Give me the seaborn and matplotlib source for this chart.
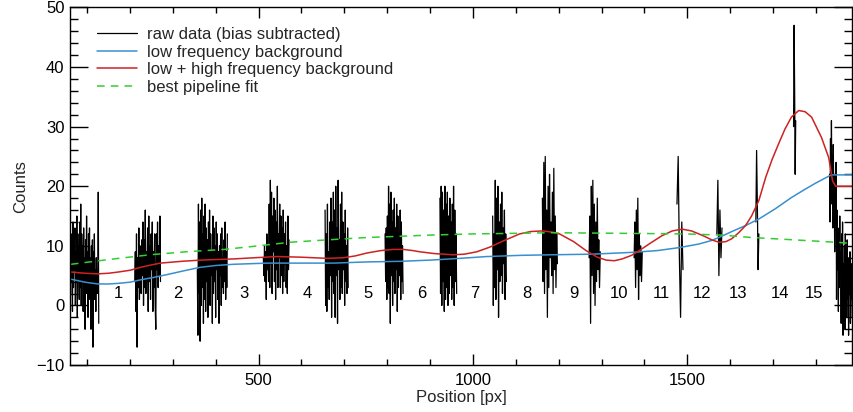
import numpy as np
import pandas as pd
import matplotlib
matplotlib.use('Agg')
import matplotlib.pyplot as plt
from matplotlib.lines import Line2D
from matplotlib.ticker import MultipleLocator
import seaborn as sns

# raw data clusters: [start, end] in px and the counts
clust_start = [60, 211, 357, 511, 655, 795, 923, 1046, 1162, 1271, 1376, 1476, 1569, 1660, 1748, 1832]
clust_end = [127, 271, 427, 571, 709, 837, 962, 1078, 1197, 1297, 1395, 1490, 1581, 1667, 1753, 1885]
clust_vals = [
    [8, 2, 12, 4, 10, -1, 14, 3, 11, 6, 13, 0, 9, 4, 15, -2, 12, 5, 9, 1, 14, 3, 17, 0, 12, 6, 10, -1, 13, 4,
     8, -4, 11, 2, 15, 3, 9, -2, 12, 5, 13, 1, 8, -4, 10, 2, 11, -7, 9, 3, 12, 1, 6, -1, 8, 2, 5, 2, 19, -3],
    [4, 9, -1, 12, -7, 8, 3, 13, 1, 10, 6, 2, 11, 5, 14, 0, 11, 3, 16, 2, 9, 4, 13, -1, 15, 4, 10, 1, 12, 6,
     14, -1, 9, 3, 12, 0, -4, 12, 6, 14, 3, 10, 5, 15, 4],
    [6, -5, 17, 2, 14, -6, 16, 0, 18, 3, 12, -3, 15, 1, 17, -1, 13, 4, 11, -2, 14, 2, 16, 0, 12, 5, 9, -3,
     15, 2, 13, 4, 10, -2, 14, 6, 12, 1, 9, -3, 10, 5, 12, 0, 13, 3, 8, 2, 11, 4, 14, 1, 9, 3, 12],
    [8, 5, 10, 4, 9, 1, 12, 6, 10, 4, 17, 3, 21, 7, 19, 2, 15, 9, 18, 4, 16, 1, 14, 6, 20, 3, 12, 8, 17, 3,
     15, 5, 13, 2, 16, 4, 12, 7, 14, 3, 10, 2, 15, 6, 11],
    [16, 0, 12, -1, 17, 3, 9, 1, 14, 5, 18, -2, 14, 4, 19, 2, 16, -2, 20, 5, 13, -3, 21, 6, 11, 1, 17, 3,
     19, 2, 14, 6, 12, 0, 16, 4, 10, 2, 13, 3],
    [12, 4, 13, 1, 15, 3, 20, 2, 17, -3, 19, 5, 14, 0, 16, 4, 18, 2, 13, 6, 17, -1, 15, 3, 12, 5, 16, 1,
     14, 4, 10, 2],
    [18, 2, 20, 0, 19, 4, 16, -1, 20, 1, 17, 3, 19, 0, 15, 2, 18, 5, 14, 1, 17, 3, 20, 0, 16, 4, 12, 2],
    [15, 0, 12, 3, 21, 1, 18, 6, 20, -2, 14, 4, 17, 5, 19, 2, 13, 7, 16, 1, 12, 4],
    [18, 4, 24, 2, 25, 6, 16, -2, 20, 3, 22, 8, 14, 5, 19, 2, 23, 6, 15, 3, 12, 7],
    [8, 15, -3, 20, 5, 21, 2, 17, 0, 14, 4, 18, 6, 11, 3, 9],
    [8, 14, 3, 16, 6, 18, 1, 12, 5, 10, 4, 9],
    [17, 25, 8, -2, 14, 6],
    [12, 21, 5, 16, 8, 13],
    [14, 26, 17, 6, 12],
    [30, 47, 36, 22, 31],
    [22, 14, 28, 17, 31, 20, 25, 13, 27, 18, 22, 9, 20, 15, 24, 1, 16, 6, 13, -1, 11, 3, 15, 5, 9, -3,
     12, 2, 14, -5, 7, 0, 10, -4, 12, 5, 8, -2, 11, 1, 8, -5, 6, 2, 9, -3, 4, 1, 7, -2],
]

# low frequency background
low_x = [62, 95, 125, 150, 172, 200, 225, 255, 288, 325, 364, 400, 441, 480, 520, 597, 674, 753,
         830, 899, 970, 1032, 1110, 1185, 1278, 1371, 1430, 1481, 1527, 1557, 1580, 1604, 1636,
         1667, 1705, 1743, 1775, 1799, 1820, 1836, 1885]
low_y = [4.4, 3.9, 3.6, 3.6, 3.7, 3.9, 4.3, 4.7, 5.2, 5.8, 6.4, 6.7, 6.9, 7.0, 7.1, 7.1, 7.1, 7.3,
         7.4, 7.6, 7.9, 8.2, 8.4, 8.5, 8.6, 8.9, 9.2, 9.7, 10.3, 10.9, 11.6, 12.4, 13.4,
         14.5, 16.2, 18.1, 19.5, 20.5, 21.3, 21.9, 21.9]

# low + high frequency background
lohi_x = [62, 95, 125, 150, 172, 200, 225, 250, 271, 320, 364, 400, 441, 490, 543, 597, 660, 697,
          725, 753, 785, 813, 837, 860, 876, 910, 953, 980, 1009, 1040, 1070, 1109, 1135, 1162,
          1185, 1202, 1235, 1264, 1290, 1311, 1330, 1348, 1370, 1388, 1415, 1441, 1465, 1488,
          1510, 1527, 1540, 1557, 1574, 1590, 1604, 1620, 1636, 1650, 1667, 1683, 1698, 1713,
          1728, 1743, 1760, 1775, 1790, 1813, 1830, 1839, 1846, 1885]
lohi_y = [5.6, 5.4, 5.3, 5.4, 5.6, 5.9, 6.4, 6.8, 7.1, 7.4, 7.6, 7.7, 7.8, 8.0, 8.2, 8.1, 7.9, 8.0,
          8.3, 8.8, 9.2, 9.4, 9.4, 9.2, 9.0, 8.7, 8.5, 8.6, 9.0, 9.8, 10.8, 12.0, 12.4, 12.5,
          12.3, 12.0, 10.7, 9.2, 8.1, 7.6, 7.5, 7.8, 8.4, 9.2, 10.5, 11.7, 12.5, 12.8,
          12.5, 12.0, 11.6, 11.0, 10.6, 10.7, 11.2, 12.2, 13.4, 15.0, 17.6, 21.5, 24.5, 27.1,
          29.6, 31.6, 32.7, 32.5, 31.6, 28.2, 24.8, 20.9, 20.0, 20.0]

# best pipeline fit
fit_x = [62, 150, 247, 330, 420, 500, 574, 660, 753, 830, 899, 1000, 1100, 1185, 1341, 1497,
         1580, 1650, 1750, 1846, 1885]
fit_y = [6.9, 7.7, 8.5, 9.0, 9.4, 10.0, 10.6, 11.0, 11.4, 11.6, 11.8, 12.0, 12.1, 12.2, 12.1, 12.0,
         11.8, 11.4, 11.0, 10.6, 10.4]

seg_labels = [str(i) for i in range(1, 16)]
seg_x = [172, 312, 465, 614, 756, 881, 1005, 1126, 1235, 1340, 1440, 1535, 1619, 1716, 1795]
seg_y = 2

rows = []
for k, (a, b, vals) in enumerate(zip(clust_start, clust_end, clust_vals)):
    for p, v in zip(np.linspace(a, b, len(vals)), vals):
        rows.append((k, p, v))
raw = pd.DataFrame(rows, columns=['cluster', 'pos', 'counts'])

sns.set_theme(style='ticks')
plt.rcParams['font.family'] = ['Liberation Sans', 'DejaVu Sans']
plt.rcParams.update({
    'xtick.top': True, 'xtick.bottom': True, 'ytick.left': True, 'ytick.right': True,
    'xtick.direction': 'in', 'ytick.direction': 'in',
    'xtick.color': 'black', 'ytick.color': 'black',
})

c_blue = '#3a8fce'
c_red = '#cc2222'
c_green = '#33cc33'

fig = plt.figure(figsize=(8.54, 4.12), dpi=100)
ax = fig.add_axes([0.082, 0.114, 0.916, 0.868])

sns.lineplot(data=raw, x='pos', y='counts', units='cluster', estimator=None,
             color='black', linewidth=0.9, ax=ax, legend=False)
sns.lineplot(x=low_x, y=low_y, color=c_blue, linewidth=1.1, ax=ax)
sns.lineplot(x=lohi_x, y=lohi_y, color=c_red, linewidth=1.1, ax=ax)
sns.lineplot(x=fit_x, y=fit_y, color=c_green, linewidth=1.1, ax=ax,
             linestyle=(0, (5, 4)))

for lab, xp in zip(seg_labels, seg_x):
    ax.text(xp, seg_y, lab, ha='center', va='center', fontsize=12, color='black')

ax.set_xlim(60, 1885)
ax.set_ylim(-10, 50)
ax.set_xlabel('Position [px]', fontsize=12, labelpad=1)
ax.set_ylabel('Counts', fontsize=12, labelpad=6)

ax.xaxis.set_major_locator(MultipleLocator(500))
ax.xaxis.set_minor_locator(MultipleLocator(100))
ax.yaxis.set_major_locator(MultipleLocator(10))
ax.yaxis.set_minor_locator(MultipleLocator(2))
ax.tick_params(axis='x', which='major', direction='in', length=8, width=1, labelsize=12,
               colors='black', pad=6, top=True, bottom=True)
ax.tick_params(axis='x', which='minor', direction='in', length=4, width=1, top=True, bottom=True)
ax.tick_params(axis='y', which='major', direction='in', length=13, width=1, labelsize=12,
               colors='black', pad=4, left=True, right=True)
ax.tick_params(axis='y', which='minor', direction='in', length=6, width=1, left=True, right=True)

for sp in ax.spines.values():
    sp.set_color('black')
    sp.set_linewidth(1)

handles = [
    Line2D([], [], color='black', linewidth=0.9),
    Line2D([], [], color=c_blue, linewidth=1.1),
    Line2D([], [], color=c_red, linewidth=1.1),
    Line2D([], [], color=c_green, linewidth=1.1, linestyle=(0, (5, 4))),
]
names = ['raw data (bias subtracted)', 'low frequency background',
         'low + high frequency background', 'best pipeline fit']
ax.legend(handles, names, loc='upper left', bbox_to_anchor=(0.0345, 0.945), frameon=False,
          fontsize=12, handlelength=2.4, handletextpad=0.6, labelspacing=0.15,
          borderpad=0, borderaxespad=0)

fig.savefig('out.png', dpi=100)
